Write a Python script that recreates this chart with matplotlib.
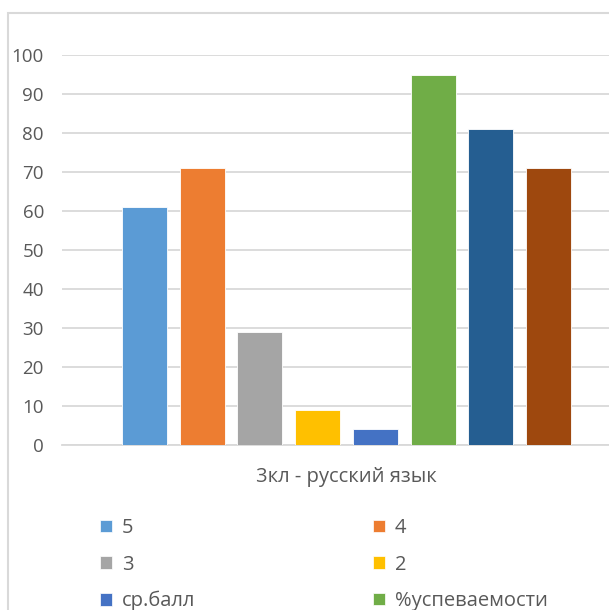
import numpy as np
import matplotlib
matplotlib.use("Agg")
import matplotlib.pyplot as plt
from matplotlib.patches import Rectangle, Patch

plt.rcParams['font.family'] = ['Open Sans', 'DejaVu Sans']

# data
category = "3кл - русский язык"
series = ["5", "4", "3", "2", "ср.балл", "%успеваемости", "s7", "s8"]
values = [61, 71, 29, 9, 4, 95, 81, 71]
colors = ["#5B9BD5", "#ED7D31", "#A5A5A5", "#FFC000", "#4472C4",
          "#70AD47", "#255E91", "#9E480E"]
n_legend = 6   # the last two legend rows are cut off in the original
yticks = np.arange(0, 101, 10)

W, H = 609, 610
fig = plt.figure(figsize=(W / 100, H / 100), dpi=100)

# plot area runs off the right edge of the picture, like the cropped original
ax = fig.add_axes([62 / W, 1 - 445 / H, 569 / W, (445 - 55) / H])

step = 0.1014
width = 0.079
for i, (name, v, c) in enumerate(zip(series, values, colors)):
    ax.bar((i - 3.5) * step, v, width=width, color=c,
           edgecolor='white', linewidth=0.6, label=name, zorder=3)

ax.set_xlim(-0.5, 0.5)
ax.set_ylim(0, 100)
ax.set_yticks(yticks)
ax.set_xticks([])
ax.yaxis.grid(True, color='#D9D9D9', linewidth=1.3, zorder=0)
ax.tick_params(axis='y', length=0, pad=13, labelsize=13.5, labelcolor='#595959')
for side in ['top', 'right', 'left']:
    ax.spines[side].set_visible(False)
ax.spines['bottom'].set_color('#D9D9D9')
ax.spines['bottom'].set_linewidth(1.3)

fig.text(346 / W, 1 - 477 / H, category, ha='center', va='center',
         fontsize=14.5, color='#595959')

# legend, row by row: (5, 4), (3, 2), (ср.балл, %успеваемости)
order = [0, 2, 4, 1, 3, 5]
handles = [Patch(facecolor=colors[i], edgecolor='white', linewidth=0.5)
           for i in order]
labels = [series[i] for i in order]
fig.legend(handles, labels, ncol=2, frameon=False,
           loc='upper left', bbox_to_anchor=(100 / W, 1 - 518 / H),
           borderpad=0, borderaxespad=0, fontsize=14.5,
           handlelength=0.6, handleheight=0.6, handletextpad=0.5,
           labelspacing=0.82, columnspacing=8.8, labelcolor='#595959')

# chart area border (only left and top edges visible)
fig.add_artist(Rectangle((8 / W, -0.1), 1.0, 1.1 - 13 / H,
                         transform=fig.transFigure, fill=False,
                         edgecolor='#D9D9D9', linewidth=1.5))

fig.savefig('out.png', dpi=100)
